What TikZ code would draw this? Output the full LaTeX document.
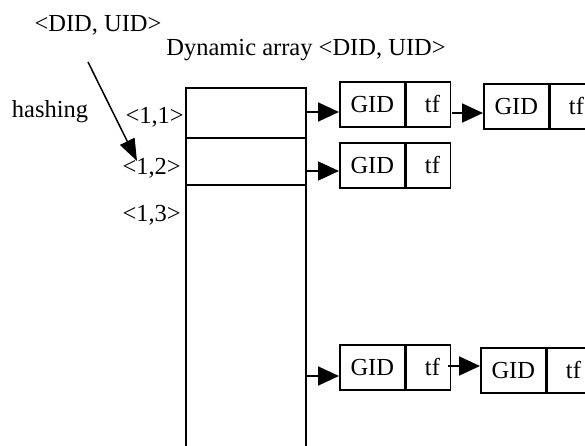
\documentclass[tikz,border=0pt]{standalone}
\usepackage{fontspec}
\setmainfont{Liberation Serif}
\usetikzlibrary{arrows.meta}
\begin{document}
\begin{tikzpicture}[x=1pt,y=-1pt,
  txt/.style={font=\fontsize{24.5}{26}\selectfont, inner sep=0pt},
  cell/.style={draw, line width=1.6pt, minimum width=120pt, inner sep=0pt, anchor=north west},
  gidp/.style={draw, line width=1.6pt, minimum width=65pt, minimum height=45pt, inner sep=0pt, anchor=north west, font=\fontsize{24.5}{26}\selectfont},
  tfp/.style={draw, line width=1.6pt, minimum width=44pt, minimum height=45pt, inner sep=0pt, anchor=west, font=\fontsize{24.5}{26}\selectfont, align=right, text width=23pt},
  link/.style={line width=1.8pt, -{Triangle[length=21pt,width=19pt]}},
]
\useasboundingbox (0,0) rectangle (585,446);
\begin{scope}
\clip (0,0) rectangle (585,446);
% array
\node[cell, minimum height=50pt] (c1) at (185,87) {};
\node[cell, minimum height=47pt] (c2) at (185,137) {};
\node[cell, minimum height=280pt] (c3) at (185,184) {};
% labels
\node[txt] (didtop) at (98,25) {<DID, UID>};
\node[txt] (dyn) at (306,50) {Dynamic array <DID, UID>};
\node[txt] (hash) at (50,112) {hashing};
\node[txt, anchor=east] (l1) at (184,117) {<1,1>};
\node[txt, anchor=east] (l2) at (181,168) {<1,2>};
\node[txt, anchor=east] (l3) at (181,215) {<1,3>};
% row 1
\node[gidp] (r1ag) at (339,81) {GID};
\node[tfp] (r1at) at (r1ag.east) {tf};
\node[gidp] (r1bg) at (483,83) {GID};
\node[tfp] (r1bt) at (r1bg.east) {tf};
% row 2
\node[gidp] (r2ag) at (339,142) {GID};
\node[tfp] (r2at) at (r2ag.east) {tf};
% row 3
\node[gidp] (r3ag) at (339,344) {GID};
\node[tfp] (r3at) at (r3ag.east) {tf};
\node[gidp] (r3bg) at (480,347) {GID};
\node[tfp] (r3bt) at (r3bg.east) {tf};
% connectors
\coordinate (s1) at (305,112);
\coordinate (s2) at (305,171);
\coordinate (s3) at (305,376);
\coordinate (t1) at (452,113);
\coordinate (t3) at (448,366);
\draw[link] (s1) -- (s1 -| r1ag.west);
\draw[link] (s2) -- (s2 -| r2ag.west);
\draw[link] (s3) -- (s3 -| r3ag.west);
\draw[link] (t1) -- (t1 -| r1bg.west);
\draw[link] (t3) -- (t3 -| r3bg.west);
% hashing arrow
\coordinate (h0) at (88,62);
\coordinate (h1) at (137,161);
\draw[line width=1.5pt, -{Triangle[length=22pt,width=16pt]}] (h0) -- (h1);
\end{scope}
\end{tikzpicture}
\end{document}
